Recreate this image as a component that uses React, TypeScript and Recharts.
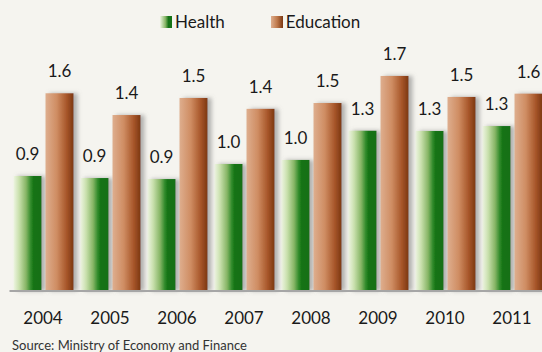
import React from 'react';
import { BarChart, Bar, XAxis, YAxis, LabelList } from 'recharts';

const years = ['2004', '2005', '2006', '2007', '2008', '2009', '2010', '2011'];
const health = [0.909, 0.893, 0.885, 1.004, 1.036, 1.267, 1.265, 1.304];
const education = [1.563, 1.391, 1.526, 1.44, 1.486, 1.7, 1.534, 1.56];

const data = years.map((year, i) => ({ year, health: health[i], education: education[i] }));

const FONT = 'Lato, "Open Sans", sans-serif';

const ShadowBar = (props: any) => {
  const { x, y, width, height, fill } = props;
  if (!height || height <= 0) return null;
  return <rect x={x} y={y} width={width} height={height} fill={fill} filter="url(#barShadow)" />;
};

const fmt = (v: any) => Number(v).toFixed(1);

export default function App() {
  return (
    <div
      style={{
        position: 'absolute',
        left: 0,
        top: 0,
        width: 542,
        height: 352,
        overflow: 'hidden',
        background: '#f5f4ef',
        fontFamily: FONT,
      }}
    >
      <div
        style={{
          position: 'absolute',
          top: 11,
          left: 160,
          display: 'flex',
          alignItems: 'center',
          fontSize: 17,
          color: '#1a1a1a',
        }}
      >
        <span style={{ width: 12, height: 12, background: 'linear-gradient(to right, #eef5e2, #86b565 45%, #157317 70%)', marginRight: 3 }} />
        <span style={{ marginRight: 46 }}>Health</span>
        <span style={{ width: 12, height: 12, background: 'linear-gradient(to right, #deae8e, #c07a4c 50%, #7c3812)', marginRight: 3 }} />
        <span>Education</span>
      </div>
      <BarChart
        width={550}
        height={352}
        data={data}
        margin={{ top: 38, right: 4.5, bottom: 31, left: 9.5 }}
        barSize={28}
        barGap={4}
      >
        <defs>
          <linearGradient id="gradHealth" x1="0" y1="0" x2="1" y2="0">
            <stop offset="0%" stopColor="#eef5e2" />
            <stop offset="20%" stopColor="#c9e0ad" />
            <stop offset="45%" stopColor="#86b565" />
            <stop offset="62%" stopColor="#2f8a2a" />
            <stop offset="72%" stopColor="#157317" />
            <stop offset="100%" stopColor="#137015" />
          </linearGradient>
          <linearGradient id="gradEdu" x1="0" y1="0" x2="1" y2="0">
            <stop offset="0%" stopColor="#deae8e" />
            <stop offset="40%" stopColor="#cf8d63" />
            <stop offset="75%" stopColor="#a8572a" />
            <stop offset="100%" stopColor="#7c3812" />
          </linearGradient>
          <filter id="barShadow" x="-20%" y="-10%" width="160%" height="120%">
            <feDropShadow dx="4" dy="0" stdDeviation="2" floodColor="#7a7a7a" floodOpacity="0.55" />
          </filter>
        </defs>
        <XAxis
          dataKey="year"
          axisLine={{ stroke: '#a6a6a6', strokeWidth: 2 }}
          tickLine={false}
          tickMargin={15}
          height={30}
          tick={{ fill: '#1a1a1a', fontSize: 17, fontFamily: FONT }}
        />
        <YAxis hide domain={[0, 2]} />
        <Bar dataKey="health" fill="url(#gradHealth)" shape={ShadowBar} isAnimationActive={false}>
          <LabelList dataKey="health" position="top" offset={16} formatter={fmt} style={{ fill: '#1a1a1a', fontSize: 17, fontFamily: FONT }} />
        </Bar>
        <Bar dataKey="education" fill="url(#gradEdu)" shape={ShadowBar} isAnimationActive={false}>
          <LabelList dataKey="education" position="top" offset={16} formatter={fmt} style={{ fill: '#1a1a1a', fontSize: 17, fontFamily: FONT }} />
        </Bar>
      </BarChart>
      <div style={{ position: 'absolute', left: 12, top: 337, fontSize: 13, color: '#333' }}>
        Source: Ministry of Economy and Finance
      </div>
    </div>
  );
}
